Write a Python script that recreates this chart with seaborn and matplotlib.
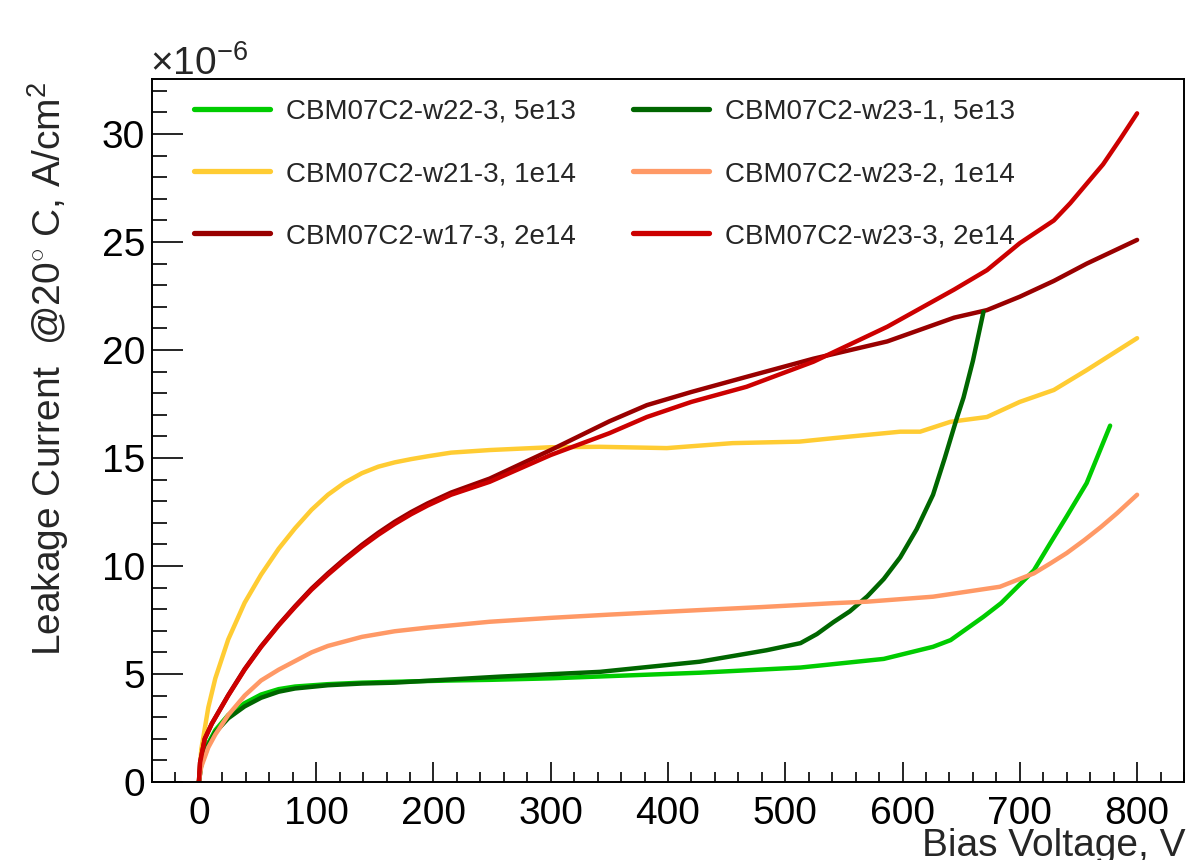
"""
Leakage current vs bias voltage for irradiated CBM07C2 sensors
"""

import pandas as pd
import matplotlib
matplotlib.use("Agg")
import matplotlib.pyplot as plt
from matplotlib.lines import Line2D
from matplotlib.ticker import MultipleLocator
import seaborn as sns

# ── Data (current in units of 1e-6 A/cm2) ──────────────────────────────────────
samples = ["CBM07C2-w22-3, 5e13", "CBM07C2-w21-3, 1e14", "CBM07C2-w17-3, 2e14",
           "CBM07C2-w23-1, 5e13", "CBM07C2-w23-2, 1e14", "CBM07C2-w23-3, 2e14"]
colors = ["#00cc00", "#ffcc33", "#990000", "#006600", "#ff9966", "#cc0000"]

v_w22_3 = [0, 2, 8, 14, 25, 39, 53, 68, 82, 110, 139, 167, 215, 248, 300, 427, 513, 584, 626, 641,
           669, 684, 698, 712, 726, 740, 757, 777]
i_w22_3 = [0, 0.85, 1.8, 2.4, 3.1, 3.65, 4.05, 4.3, 4.42, 4.53, 4.6, 4.64, 4.7, 4.73, 4.8, 5.06, 5.3, 5.7, 6.26, 6.57,
           7.65, 8.28, 9.04, 9.8, 11.06, 12.3, 13.84, 16.5]

v_w21_3 = [0, 2, 8, 14, 25, 39, 53, 68, 82, 96, 110, 124, 139, 153, 167, 181, 195, 215, 248, 300, 342, 399,
           455, 512, 541, 598, 615, 641, 672, 700, 729, 757, 800]
i_w21_3 = [0, 1.5, 3.45, 4.8, 6.6, 8.3, 9.6, 10.8, 11.75, 12.6, 13.3, 13.85, 14.3, 14.6, 14.8, 14.95, 15.08, 15.25,
           15.37, 15.5, 15.52, 15.46, 15.69, 15.76, 15.92, 16.22, 16.22, 16.68, 16.9, 17.6, 18.15, 19.07, 20.55]

v_w17_3 = [0, 1, 5, 11, 25, 39, 53, 68, 82, 96, 110, 124, 139, 153, 167, 181, 195, 215, 248, 300, 350, 382,
           420, 467, 524, 587, 644, 672, 700, 729, 757, 800]
i_w17_3 = [0, 0.9, 2.0, 2.7, 4.02, 5.23, 6.28, 7.28, 8.14, 8.95, 9.66, 10.32, 10.98, 11.54, 12.05, 12.5, 12.9,
           13.4, 14.05, 15.37, 16.7, 17.45, 18.06, 18.76, 19.6, 20.4, 21.5, 21.85, 22.47, 23.2, 24.0, 25.1]

v_w23_1 = [0, 2, 8, 14, 25, 39, 53, 68, 82, 110, 139, 167, 257, 342, 427, 484, 513, 527, 541, 555, 570, 584,
           598, 612, 626, 636, 646, 652, 660, 669]
i_w23_1 = [0, 0.8, 1.7, 2.3, 2.95, 3.5, 3.9, 4.18, 4.33, 4.48, 4.56, 4.6, 4.88, 5.1, 5.57, 6.1, 6.43, 6.85,
           7.4, 7.9, 8.6, 9.4, 10.4, 11.7, 13.3, 15.0, 16.8, 17.8, 19.5, 21.77]

v_w23_2 = [0, 2, 8, 14, 25, 39, 53, 68, 82, 96, 110, 139, 167, 195, 215, 248, 300, 350, 427, 480, 541, 570,
           626, 683, 712, 726, 740, 755, 769, 783, 800]
i_w23_2 = [0, 0.7, 1.6, 2.2, 3.1, 4.0, 4.7, 5.2, 5.6, 6.0, 6.3, 6.72, 6.98, 7.15, 7.25, 7.42, 7.6, 7.75, 7.96,
           8.1, 8.28, 8.35, 8.58, 9.04, 9.66, 10.12, 10.6, 11.2, 11.8, 12.45, 13.3]

v_w23_3 = [0, 1, 5, 11, 25, 39, 53, 68, 82, 96, 110, 124, 139, 153, 167, 181, 195, 215, 248, 300, 350, 382,
           420, 467, 524, 587, 644, 672, 700, 729, 743, 757, 771, 786, 800]
i_w23_3 = [0, 0.9, 2.0, 2.7, 4.0, 5.2, 6.25, 7.25, 8.1, 8.9, 9.6, 10.25, 10.9, 11.45, 11.95, 12.4, 12.8, 13.3,
           13.9, 15.14, 16.15, 16.9, 17.6, 18.3, 19.46, 21.08, 22.8, 23.7, 24.95, 26.0, 26.8, 27.7, 28.6, 29.8, 30.96]

voltages = [v_w22_3, v_w21_3, v_w17_3, v_w23_1, v_w23_2, v_w23_3]
currents = [i_w22_3, i_w21_3, i_w17_3, i_w23_1, i_w23_2, i_w23_3]

df = pd.concat(
    [pd.DataFrame({"V": v, "I": i, "sample": s}) for v, i, s in zip(voltages, currents, samples)],
    ignore_index=True,
)

# ── Style ──────────────────────────────────────────────────────────────────────
sns.set_style("ticks")
plt.rcParams.update({
    "font.family": ["Liberation Sans", "DejaVu Sans"],
    "mathtext.fontset": "custom",
    "mathtext.rm": "Liberation Sans",
    "mathtext.it": "Liberation Sans:italic",
    "axes.edgecolor": "black",
    "axes.linewidth": 1.4,
})

fig = plt.figure(figsize=(11.9, 8.6), dpi=100)
ax = fig.add_axes([152 / 1190, 78 / 860, (1184 - 152) / 1190, (782 - 79) / 860])

sns.lineplot(data=df, x="V", y="I", hue="sample", hue_order=samples, palette=colors,
             estimator=None, sort=False, linewidth=3.2, legend=False, ax=ax)
for ln in ax.get_lines():
    ln.set_solid_joinstyle("round")

ax.set_xlim(-40, 840)
ax.set_ylim(0, 32.55)
ax.xaxis.set_major_locator(MultipleLocator(100))
ax.xaxis.set_minor_locator(MultipleLocator(20))
ax.yaxis.set_major_locator(MultipleLocator(5))
ax.yaxis.set_minor_locator(MultipleLocator(1))
ax.tick_params(axis="both", which="both", direction="in", width=1.2, colors="black",
               labelsize=28, top=False, right=False)
ax.tick_params(axis="x", which="major", length=14.5, pad=10)
ax.tick_params(axis="x", which="minor", length=7.2)
ax.tick_params(axis="y", which="major", length=22, pad=5)
ax.tick_params(axis="y", which="minor", length=11)
ax.set_xlabel("")
ax.set_ylabel("")
for sp in ax.spines.values():
    sp.set_visible(True)

fig.text(1185 / 1190, 1 - 856 / 860, "Bias Voltage, V", ha="right", va="baseline", fontsize=28)
fig.text(48 / 1190, 1 - 82 / 860, r"Leakage Current  @20$^{\circ}$ C, A/cm$^{2}$",
         rotation=90, ha="center", va="top", fontsize=28)
fig.text(150 / 1190, 1 - 75 / 860, r"$\times$10$^{-6}$", ha="left", va="baseline", fontsize=28)

handles = [Line2D([], [], color=c, linewidth=3.8) for c in colors]
ax.legend(handles, samples, ncol=2, frameon=False, fontsize=20,
          loc="upper left", bbox_to_anchor=(194 / 1190, 1 - 99 / 860),
          bbox_transform=fig.transFigure, borderaxespad=0, borderpad=0,
          handlelength=2.75, handletextpad=0.55, columnspacing=2.06, labelspacing=1.3)

plt.savefig("out.png", dpi=100, facecolor="white")
